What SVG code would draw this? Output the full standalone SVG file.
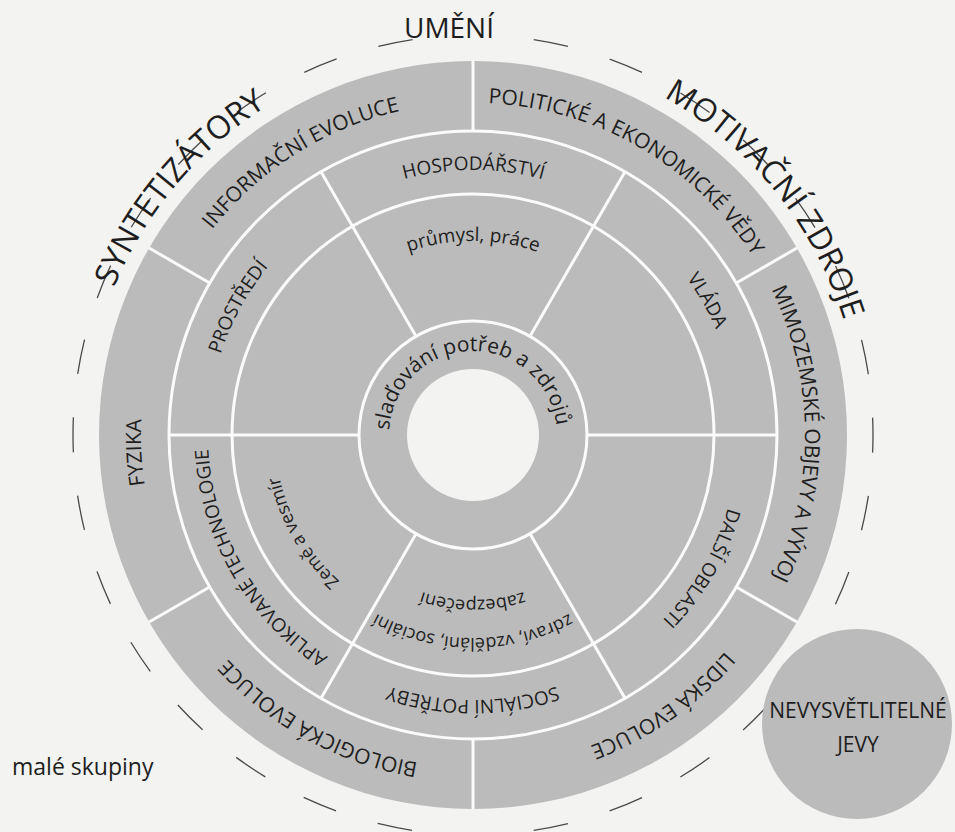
<svg xmlns="http://www.w3.org/2000/svg" xmlns:xlink="http://www.w3.org/1999/xlink" width="955" height="832" viewBox="0 0 955 832">
<style>
.t{font-family:"Open Sans","Noto Sans","Liberation Sans",sans-serif;fill:#1e1e1e}
.a{font-size:21px}
.b{font-size:19px}
.c{font-size:18px}
.d{font-size:21px}
.o{font-size:32px}
.sep{stroke:#fbfbfb;stroke-width:3;fill:none}
.ring{fill:#bbbbbb}
</style>
<defs>
<path id="pA" d="M805 435A332 332 0 1 1 141 435A332 332 0 1 1 805 435A332 332 0 1 1 141 435A332 332 0 1 1 805 435"/>
<path id="pB" d="M738 435A265 265 0 1 1 208 435A265 265 0 1 1 738 435A265 265 0 1 1 208 435A265 265 0 1 1 738 435"/>
<path id="pC1" d="M667 435A194 194 0 1 1 279 435A194 194 0 1 1 667 435A194 194 0 1 1 279 435A194 194 0 1 1 667 435"/>
<path id="pC2" d="M671 435A198 198 0 1 1 275 435A198 198 0 1 1 671 435A198 198 0 1 1 275 435A198 198 0 1 1 671 435"/>
<path id="pC3" d="M676 435A203 203 0 1 1 270 435A203 203 0 1 1 676 435A203 203 0 1 1 270 435A203 203 0 1 1 676 435"/>
<path id="pC4" d="M638 435A165 165 0 1 1 308 435A165 165 0 1 1 638 435A165 165 0 1 1 308 435A165 165 0 1 1 638 435"/>
<path id="pD" d="M557 435A84 84 0 1 1 389 435A84 84 0 1 1 557 435A84 84 0 1 1 389 435A84 84 0 1 1 557 435"/>
<path id="pO" d="M861 435A388 388 0 1 1 85 435A388 388 0 1 1 861 435A388 388 0 1 1 85 435A388 388 0 1 1 861 435"/>
</defs>
<rect width="955" height="832" fill="#f3f3f1"/>
<g id="outer-dashed">
<path d="M490.45 35.38A400 400 0 1 1 455.55 35.38" fill="none" stroke="#4a4a4a" stroke-width="1.3" stroke-dasharray="35 43.54" stroke-dashoffset="35"/>
</g>
<g id="disc">
<circle class="ring" cx="473" cy="435" r="374"/>
<circle cx="473" cy="435" r="66" fill="#f3f3f1"/>
</g>
<g id="connectors">
<circle class="sep" cx="473" cy="435" r="114"/>
<circle class="sep" cx="473" cy="435" r="241"/>
<circle class="sep" cx="473" cy="435" r="304"/>
<path class="sep" d="M473 131L473 61M736.3 283L796.9 248M736.3 587L796.9 622M473 739L473 809M209.7 587L149.1 622M209.7 283L149.1 248"/>
<path class="sep" d="M587 435L777 435M530 533.7L625 698.3M416 533.7L321 698.3M359 435L169 435M416 336.3L321 171.7M530 336.3L625 171.7"/>
</g>
<g id="n-informacni"><text class="t a"><textPath href="#pA" startOffset="1377.4" text-anchor="middle">INFORMAČNÍ EVOLUCE</textPath></text></g>
<g id="n-politicke"><text class="t a"><textPath href="#pA" startOffset="1738.4" text-anchor="middle">POLITICKÉ A EKONOMICKÉ VĚDY</textPath></text></g>
<g id="n-mimozemske"><text class="t a"><textPath href="#pA" startOffset="2084.3" text-anchor="middle">MIMOZEMSKÉ OBJEVY A VÝVOJ</textPath></text></g>
<g id="n-lidska"><text class="t a"><textPath href="#pA" startOffset="318.7" text-anchor="middle">LIDSKÁ EVOLUCE</textPath></text></g>
<g id="n-biologicka"><text class="t a"><textPath href="#pA" startOffset="687.2" text-anchor="middle">BIOLOGICKÁ EVOLUCE</textPath></text></g>
<g id="n-fyzika"><text class="t a"><textPath href="#pA" startOffset="1025.6" text-anchor="middle">FYZIKA</textPath></text></g>
<g id="n-prostredi"><text class="t b"><textPath href="#pB" startOffset="964.3" text-anchor="middle">PROSTŘEDÍ</textPath></text></g>
<g id="n-hospodarstvi"><text class="t b"><textPath href="#pB" startOffset="1248.8" text-anchor="middle">HOSPODÁŘSTVÍ</textPath></text></g>
<g id="n-vlada"><text class="t b"><textPath href="#pB" startOffset="1526.3" text-anchor="middle">VLÁDA</textPath></text></g>
<g id="n-dalsi"><text class="t b"><textPath href="#pB" startOffset="1803.8" text-anchor="middle">DALŠÍ OBLASTI</textPath></text></g>
<g id="n-socialni"><text class="t b"><textPath href="#pB" startOffset="416.3" text-anchor="middle">SOCIÁLNÍ POTŘEBY</textPath></text></g>
<g id="n-aplikovane"><text class="t b"><textPath href="#pB" startOffset="693.8" text-anchor="middle">APLIKOVANÉ TECHNOLOGIE</textPath></text></g>
<g id="n-prumysl"><text class="t" font-size="19"><textPath href="#pC1" startOffset="914.2" text-anchor="middle">průmysl, práce</textPath></text></g>
<g id="n-zeme"><text class="t c"><textPath href="#pC2" startOffset="518.4" text-anchor="middle">Země a vesmír</textPath></text></g>
<g id="n-zdravi"><text class="t c"><textPath href="#pC3" startOffset="318.9" text-anchor="middle">zdraví, vzdělání, sociální</textPath></text><text class="t c"><textPath href="#pC4" startOffset="259.2" text-anchor="middle">zabezpečení</textPath></text></g>
<g id="n-sladovani"><text class="t d"><textPath href="#pD" startOffset="392.9" text-anchor="middle">slaďování potřeb a zdrojů</textPath></text></g>
<g id="n-syntetizatory"><text class="t o"><textPath href="#pO" startOffset="1489.8" text-anchor="middle">SYNTETIZÁTORY</textPath></text></g>
<g id="n-motivacni"><text class="t o"><textPath href="#pO" startOffset="2173.8" text-anchor="middle">MOTIVAČNÍ ZDROJE</textPath></text></g>
<g id="n-umeni"><text class="t" x="449" y="38" font-size="28" text-anchor="middle">UMĚNÍ</text></g>
<g id="n-nevysvetlitelne">
<circle class="ring" cx="857" cy="724" r="95"/>
<text class="t" x="858" y="718" font-size="21" text-anchor="middle">NEVYSVĚTLITELNÉ</text>
<text class="t" x="858" y="752" font-size="21" text-anchor="middle">JEVY</text>
</g>
<g id="n-male"><text class="t" x="12" y="775" font-size="23">malé skupiny</text></g>
</svg>
